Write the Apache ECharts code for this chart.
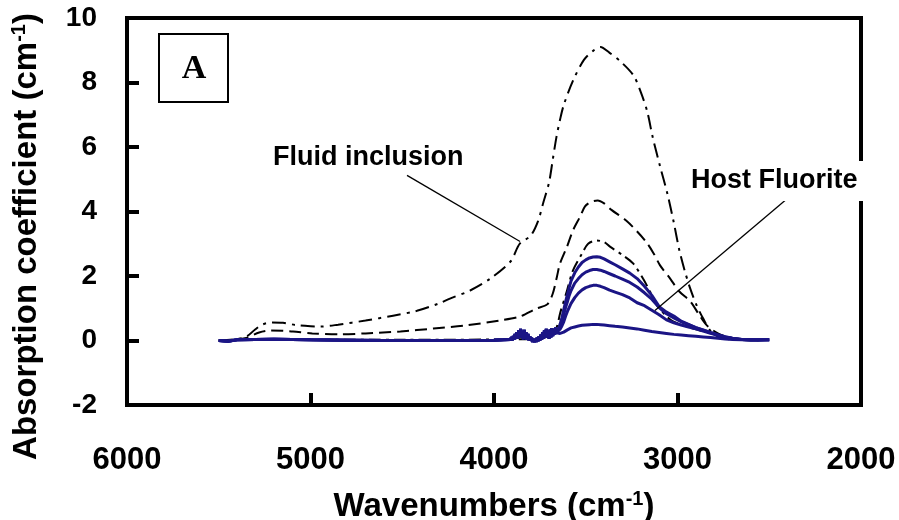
<!DOCTYPE html>
<html>
<head>
<meta charset="utf-8">
<script src="https://cdn.jsdelivr.net/npm/echarts@6/dist/echarts.min.js"></script>
<style>
  html, body { margin: 0; padding: 0; background: #fff; }
  #chart { width: 899px; height: 520px; }
</style>
</head>
<body>
<div id="chart"></div>
<script>
// wavenumber (cm-1) / absorption coefficient (cm-1)

// large dash-dot curve (fluid inclusion)
var c1Wn = [5500, 5420, 5350, 5300, 5260, 5210, 5150, 5080, 5000, 4950, 4850, 4700, 4550, 4420, 4300, 4240, 4130, 4020, 3910, 3860,
  3800, 3760, 3730, 3700, 3680, 3660, 3640, 3620, 3570, 3510, 3460, 3420, 3370, 3310, 3240, 3200, 3165, 3135, 3095, 3055,
  3020, 2990, 2960, 2930, 2895, 2860, 2820, 2770, 2700, 2600, 2550];
var c1Abs = [0.0, 0.03, 0.12, 0.35, 0.50, 0.56, 0.55, 0.48, 0.44, 0.43, 0.49, 0.62, 0.77, 0.92, 1.15, 1.30, 1.55, 1.92, 2.45, 3.00,
  3.25, 3.70, 4.30, 4.90, 5.60, 6.30, 6.85, 7.30, 8.05, 8.70, 8.98, 9.10, 8.92, 8.65, 8.22, 7.70, 7.10, 6.30, 5.40, 4.55,
  3.65, 2.80, 2.15, 1.60, 1.08, 0.68, 0.30, 0.10, 0.03, 0.01, 0.01];

// dashed curve
var c2Wn = [5500, 5420, 5350, 5280, 5220, 5150, 5095, 4990, 4840, 4700, 4510, 4330, 4150, 3970, 3860, 3770, 3710, 3680, 3657, 3640,
  3602, 3570, 3531, 3504, 3470, 3435, 3400, 3360, 3280, 3220, 3170, 3130, 3095, 3040, 2990, 2930, 2880, 2840, 2780, 2720,
  2650, 2550];
var c2Abs = [0.0, 0.02, 0.08, 0.25, 0.31, 0.30, 0.28, 0.22, 0.19, 0.22, 0.28, 0.37, 0.47, 0.62, 0.74, 0.99, 1.12, 1.45, 1.98, 2.39,
  2.91, 3.41, 3.84, 4.16, 4.30, 4.34, 4.25, 4.05, 3.72, 3.38, 3.05, 2.70, 2.33, 1.92, 1.52, 1.21, 0.78, 0.47, 0.22, 0.10,
  0.04, 0.01];

// small dash-dot curve
var c3Wn = [5500, 5300, 5000, 4500, 4000, 3800, 3720, 3679, 3657, 3640, 3602, 3570, 3520, 3487, 3440, 3400, 3368, 3297, 3242, 3188,
  3150, 3112, 3060, 3024, 2916, 2768, 2700, 2600, 2550];
var c3Abs = [0.0, 0.03, 0.02, 0.02, 0.03, 0.05, 0.10, 0.22, 0.43, 0.84, 1.55, 2.17, 2.70, 3.00, 3.10, 3.05, 2.91, 2.64, 2.39, 1.92,
  1.52, 1.09, 0.75, 0.59, 0.37, 0.16, 0.05, 0.02, 0.01];

// host fluorite spectra: shared noisy baseline, then four curves
var baseWn = [5500, 5450, 5400, 5300, 5200, 5100, 5000, 4800, 4600, 4400, 4200, 4000, 3950,
  3910, 3905, 3900, 3895, 3890, 3885, 3880, 3875, 3870, 3865, 3860, 3855, 3850, 3845, 3840, 3835, 3830, 3825, 3820, 3815,
  3810, 3805, 3800, 3795, 3790, 3785, 3780, 3775, 3770, 3765, 3760, 3755, 3750, 3745, 3740, 3735, 3730, 3725, 3720, 3715,
  3710, 3705, 3700, 3695, 3690, 3685, 3680, 3675, 3670, 3665, 3660];
var baseAbs = [0.0, -0.02, 0.02, 0.03, 0.04, 0.03, 0.02, 0.01, 0.0, 0.0, 0.0, 0.01, 0.02,
  0.03, 0.10, 0.01, 0.14, 0.03, 0.20, 0.05, 0.26, 0.06, 0.32, 0.08, 0.36, 0.10, 0.28, 0.04, 0.33, 0.08, 0.25, 0.02, 0.20,
  0.01, 0.13, -0.01, 0.08, -0.04, 0.05, -0.05, 0.04, -0.04, 0.08, -0.02, 0.12, 0.00, 0.18, 0.03, 0.26, 0.05, 0.32, 0.08, 0.36,
  0.10, 0.30, 0.06, 0.34, 0.10, 0.38, 0.14, 0.34, 0.18, 0.40, 0.24];

var hostWn = [3650, 3640, 3630, 3620, 3610, 3600, 3590, 3580, 3560, 3540, 3520, 3500, 3480, 3460, 3440, 3420, 3400, 3370, 3340, 3300,
  3260, 3220, 3180, 3140, 3100, 3060, 3020, 2980, 2940, 2900, 2860, 2820, 2780, 2740, 2700, 2650, 2600, 2550, 2500];
var host1 = [0.35, 0.50, 0.70, 0.95, 1.20, 1.42, 1.65, 1.85, 2.10, 2.28, 2.42, 2.50, 2.56, 2.59, 2.60, 2.58, 2.53, 2.44, 2.35, 2.22,
  2.09, 1.92, 1.68, 1.40, 1.05, 0.88, 0.76, 0.60, 0.50, 0.40, 0.33, 0.25, 0.18, 0.12, 0.07, 0.03, 0.02, 0.02, 0.02];
var host2 = [0.30, 0.43, 0.60, 0.80, 1.02, 1.20, 1.40, 1.55, 1.78, 1.92, 2.04, 2.12, 2.17, 2.20, 2.20, 2.18, 2.14, 2.07, 2.00, 1.90,
  1.80, 1.66, 1.48, 1.28, 1.02, 0.83, 0.70, 0.58, 0.49, 0.40, 0.32, 0.24, 0.17, 0.11, 0.06, 0.03, 0.02, 0.02, 0.02];
var host3 = [0.28, 0.35, 0.45, 0.58, 0.75, 0.90, 1.03, 1.15, 1.33, 1.47, 1.57, 1.64, 1.68, 1.71, 1.71, 1.68, 1.64, 1.56, 1.50, 1.42,
  1.32, 1.17, 1.08, 0.94, 0.80, 0.64, 0.55, 0.48, 0.42, 0.36, 0.29, 0.22, 0.16, 0.10, 0.06, 0.03, 0.02, 0.02, 0.02];
var host4 = [0.25, 0.22, 0.24, 0.26, 0.30, 0.33, 0.36, 0.39, 0.42, 0.45, 0.47, 0.48, 0.49, 0.50, 0.50, 0.49, 0.48, 0.46, 0.44, 0.42,
  0.39, 0.36, 0.32, 0.28, 0.25, 0.22, 0.19, 0.17, 0.15, 0.13, 0.11, 0.09, 0.07, 0.05, 0.03, 0.02, 0.01, 0.01, 0.02];

var xTicks = [6000, 5000, 4000, 3000, 2000];
var yTicks = [-2, 0, 2, 4, 6, 8, 10];

function pairs(xs, ys) {
  return xs.map(function (x, i) { return [x, ys[i]]; });
}
function hostCurve(vals) {
  return pairs(baseWn, baseAbs).concat(pairs(hostWn, vals));
}

var font = "'Liberation Sans', Arial, Helvetica, sans-serif";
var blue = '#1b1585';

var nameRich = {
  b: { fontFamily: font, fontWeight: 'bold', fontSize: 33, color: '#000', lineHeight: 36 },
  s: { fontFamily: font, fontWeight: 'bold', fontSize: 20, color: '#000', verticalAlign: 'top', lineHeight: 36 }
};

var chart = echarts.init(document.getElementById('chart'));

chart.setOption({
  animation: false,
  backgroundColor: '#fff',
  grid: {
    left: 127, right: 38, top: 18, bottom: 115,
    containLabel: false, outerBoundsMode: 'none',
    show: true, borderColor: '#000', borderWidth: 4, backgroundColor: 'transparent'
  },
  xAxis: {
    type: 'value',
    inverse: true,
    min: xTicks[xTicks.length - 1],
    max: xTicks[0],
    interval: 1000,
    name: '{b|Wavenumbers (cm}{s|-1}{b|)}',
    nameLocation: 'middle',
    nameGap: 84,
    nameTextStyle: { rich: nameRich },
    axisLine: { onZero: false, lineStyle: { color: '#000', width: 4 } },
    axisTick: { inside: true, length: 12, lineStyle: { color: '#000', width: 4 } },
    axisLabel: {
      fontFamily: font, fontWeight: 'bold', fontSize: 31, color: '#000', margin: 40,
      formatter: function (v) { return String(v); }
    },
    splitLine: { show: false }
  },
  yAxis: {
    type: 'value',
    min: yTicks[0],
    max: yTicks[yTicks.length - 1],
    interval: 2,
    name: '{b|Absorption coefficient (cm}{s|-1}{b|)}',
    nameLocation: 'middle',
    nameGap: 82,
    nameTextStyle: { rich: nameRich, padding: [0, 50, 0, 0] },
    axisLine: { onZero: false, lineStyle: { color: '#000', width: 4 } },
    axisTick: { inside: true, length: 12, lineStyle: { color: '#000', width: 4 } },
    axisLabel: { fontFamily: font, fontWeight: 'bold', fontSize: 28, color: '#000', margin: 30 },
    splitLine: { show: false }
  },
  series: [
    {
      type: 'line', data: pairs(c1Wn, c1Abs), showSymbol: false, smooth: 0.3,
      lineStyle: { color: '#000', width: 2, type: [14, 6, 3, 6] },
      markLine: {
        silent: true, symbol: 'none', label: { show: false },
        lineStyle: { color: '#000', width: 1.3, type: 'solid' },
        data: [
          [{ coord: [4474, 5.12] }, { coord: [3858, 3.07] }],
          [{ coord: [2414, 4.34] }, { coord: [3123, 0.93] }]
        ]
      }
    },
    {
      type: 'line', data: pairs(c2Wn, c2Abs), showSymbol: false, smooth: 0.3,
      lineStyle: { color: '#000', width: 2, type: [12, 6] }
    },
    {
      type: 'line', data: pairs(c3Wn, c3Abs), showSymbol: false, smooth: 0.3,
      lineStyle: { color: '#000', width: 2, type: [12, 5, 3, 5] }
    },
    { type: 'line', data: hostCurve(host4), showSymbol: false, lineStyle: { color: blue, width: 3 } },
    { type: 'line', data: hostCurve(host3), showSymbol: false, lineStyle: { color: blue, width: 3 } },
    { type: 'line', data: hostCurve(host2), showSymbol: false, lineStyle: { color: blue, width: 3 } },
    { type: 'line', data: hostCurve(host1), showSymbol: false, lineStyle: { color: blue, width: 3 } }
  ],
  graphic: [
    {
      type: 'group', left: 158, top: 33, z: 100,
      children: [
        { type: 'rect', shape: { x: 0, y: 0, width: 69, height: 68 }, style: { fill: '#fff', stroke: '#000', lineWidth: 2 } },
        {
          type: 'text', x: 35, y: 35,
          style: { text: 'A', fontFamily: "'Liberation Serif', 'Times New Roman', serif", fontWeight: 'bold', fontSize: 34,
            fill: '#000', align: 'center', verticalAlign: 'middle' }
        }
      ]
    },
    {
      type: 'text', x: 273, y: 158, z: 100,
      style: { text: 'Fluid inclusion', fontFamily: font, fontWeight: 'bold', fontSize: 27, fill: '#000', verticalAlign: 'middle' }
    },
    {
      type: 'text', x: 689, y: 181, z: 100,
      style: { text: 'Host Fluorite', fontFamily: font, fontWeight: 'bold', fontSize: 27, fill: '#000', verticalAlign: 'middle',
        backgroundColor: '#fff', padding: [8, 6, 5, 2] }
    }
  ]
});
</script>
</body>
</html>
